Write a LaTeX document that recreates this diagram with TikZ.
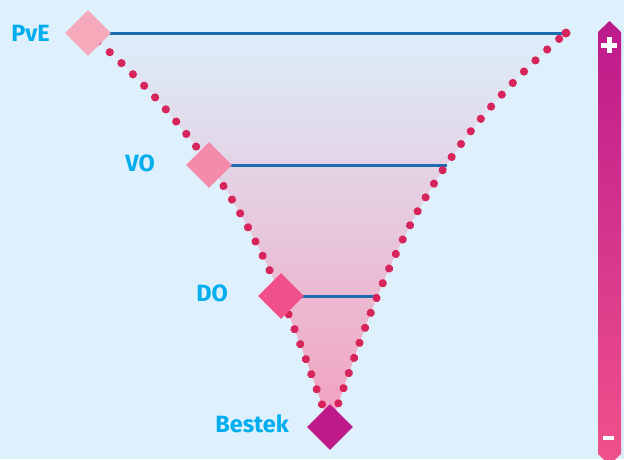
\documentclass[tikz,border=0pt]{standalone}
\usepackage{fontspec}
\setmainfont{Fira Sans}
\usetikzlibrary{shapes.geometric,decorations.markings}

\definecolor{bgblue}{HTML}{DDF0FB}
\definecolor{funTop}{HTML}{DCEEFA}
\definecolor{funBot}{HTML}{F3A0BE}
\definecolor{dotred}{HTML}{D7245A}
\definecolor{rungblue}{HTML}{1C6EB0}
\definecolor{lblcyan}{HTML}{00AEEF}
\definecolor{gemPvE}{HTML}{F7A9BC}
\definecolor{gemVO}{HTML}{F48BAA}
\definecolor{gemDO}{HTML}{F0518A}
\definecolor{gemBestek}{HTML}{BE1A8A}
\definecolor{barTop}{HTML}{BC1A8C}
\definecolor{barBot}{HTML}{F0528B}

\pgfdeclarelayer{back}
\pgfsetlayers{back,main}

\tikzset{
  gem/.style={diamond, minimum size=46pt, inner sep=0pt, draw=none},
  lbl/.style={text=lblcyan, inner sep=0pt, text height=16pt, text depth=0pt,
              font=\fontsize{23.5}{23.5}\selectfont\bfseries, anchor=east},
  rung/.style={draw=rungblue, line width=3pt},
  dotwall/.style={decoration={markings,
      mark=between positions #1 and 1 step 16pt with
        {\fill[dotred] (0,0) circle (4.1pt);}},
    postaction={decorate}},
}

\begin{document}
\begin{tikzpicture}[x=1pt, y=-1pt]
\useasboundingbox (0,0) rectangle (624,459);

% level markers
\node[gem, fill=gemPvE]    (nPvE)    at (88,33)  {};
\node[gem, fill=gemVO]     (nVO)     at (209,165) {};
\node[gem, fill=gemDO]     (nDO)     at (281,296) {};
\node[gem, fill=gemBestek] (nBestek) at (330,427) {};

% right ends of the rungs
\coordinate (ePvE) at (566,33);
\coordinate (eVO)  at (447,165);
\coordinate (eDO)  at (374,296);

% labels
\node[lbl] (lPvE)    at (50,33)   {PvE};
\node[lbl] (lVO)     at (155,163) {VO};
\node[lbl] (lDO)     at (228,293) {DO};
\node[lbl] (lBestek) at (289,424) {Bestek};

\begin{pgfonlayer}{back}
  \fill[bgblue] (0,0) rectangle (624,459);
  % funnel body
  \shade[top color=funTop, bottom color=funBot]
    (nPvE.center) .. controls (242.3,164.3) and (283.5,295.7) .. (nBestek.center)
    .. controls (376.5,295.7) and (411.7,164.3) .. (ePvE) -- cycle;
  % rungs
  \draw[rung] (nPvE.center) -- (ePvE);
  \draw[rung] (nVO.center) -- (eVO);
  \draw[rung] (nDO.center) -- (eDO);
  % dotted funnel walls
  \path[dotwall=13pt]
    (nPvE.center) .. controls (242.3,164.3) and (283.5,295.7) .. (nBestek.center);
  \path[dotwall=9pt]
    (ePvE) .. controls (411.7,164.3) and (376.5,295.7) .. (nBestek.center);
  \fill[dotred] (ePvE) circle (4.5);
\end{pgfonlayer}

% scale bar
\shade[top color=barTop, bottom color=barBot]
  (598,32) -- (609.5,21) -- (621,32) -- (621,454) -- (609.5,465) -- (598,454) -- cycle;
\fill[white] (601,42.5) rectangle (617,47.5);
\fill[white] (606.5,37) rectangle (611.5,53);
\fill[white] (603,436) rectangle (614,440);
\end{tikzpicture}
\end{document}
